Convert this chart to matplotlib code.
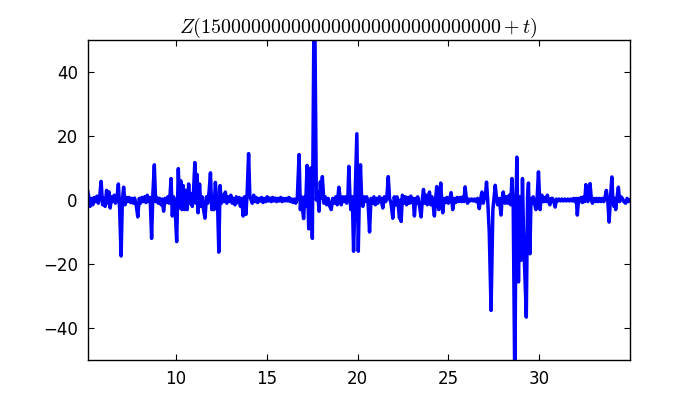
import matplotlib
matplotlib.use("Agg")
import matplotlib.pyplot as plt

# Points (t, Z), grouped by stretch of t
seg_a = [(5.13, 3.0), (5.2, 1.0), (5.27, -2.0), (5.35, 0.5), (5.42, -1.5), (5.5, 0.8), (5.57, -0.5),
         (5.65, 1.2), (5.72, -1.0), (5.8, 1.0), (5.88, 5.8), (5.96, -1.5), (6.03, 0.5), (6.1, -2.0),
         (6.18, 3.0), (6.25, -1.0), (6.32, 2.5), (6.38, -2.5), (6.45, 1.0), (6.52, -0.5), (6.6, 1.5),
         (6.67, -1.0), (6.75, 0.5), (6.83, 5.0), (6.9, -3.0), (6.98, -17.5), (7.05, 0.0), (7.12, 4.0),
         (7.2, -1.5), (7.28, 0.8)]
seg_b = [(7.35, -0.5), (7.42, 0.8), (7.5, -0.8), (7.58, 0.5), (7.65, -1.0), (7.72, 0.6), (7.8, -1.2),
         (7.9, -5.3), (7.98, 0.5), (8.05, -1.0), (8.12, 0.8), (8.2, -0.5), (8.28, 1.0), (8.35, -0.8),
         (8.42, 1.5), (8.5, -0.5), (8.58, 0.8), (8.66, -12.0), (8.73, 2.0), (8.81, 11.0), (8.88, -0.5),
         (8.95, 0.8), (9.02, -1.0), (9.1, 0.5), (9.18, -1.5), (9.25, 0.3), (9.32, -3.5), (9.4, 0.5),
         (9.48, -0.8), (9.55, 1.0)]
seg_c = [(9.62, -1.0), (9.68, 2.0), (9.73, 6.7), (9.8, -5.0), (9.87, 1.0), (9.95, -2.0), (10.04, -13.0),
         (10.13, 9.8), (10.2, -2.5), (10.27, 6.0), (10.33, -3.0), (10.4, 4.5), (10.47, -3.0), (10.55, 3.0),
         (10.62, -3.0), (10.7, 5.0), (10.77, -1.0), (10.84, 2.0), (10.9, -2.0), (10.97, 3.0), (11.04, 11.7),
         (11.1, -1.0), (11.16, 8.0), (11.22, -4.0), (11.3, 5.0), (11.37, -2.0), (11.45, 1.0), (11.52, -3.0),
         (11.6, -5.7), (11.68, 1.0), (11.75, -1.0), (11.83, 3.0), (11.9, 8.5), (11.97, -3.0), (12.04, 1.0),
         (12.1, -3.0), (12.17, 5.5), (12.24, 0.5), (12.3, -3.0), (12.36, -16.3), (12.43, 4.5), (12.5, -1.0),
         (12.58, 1.5)]
seg_d = [(12.65, -0.5), (12.72, 2.5), (12.8, -1.0), (12.87, 1.0), (12.95, -0.5), (13.02, 1.5), (13.1, -1.0),
         (13.17, 0.5), (13.25, -1.5), (13.32, 1.0), (13.4, -0.8), (13.48, 0.8), (13.55, -2.0), (13.62, 0.5),
         (13.7, -5.0), (13.77, 1.0), (13.85, -4.5), (13.92, 2.0), (14.0, 14.5), (14.07, 1.0), (14.14, 0.0),
         (14.2, -1.0), (14.28, 1.5), (14.35, -0.5), (14.42, 0.8), (14.5, -0.8), (14.57, 0.5), (14.65, -0.3),
         (14.72, 0.8), (14.8, -0.8), (14.87, 0.5), (14.95, -0.5), (15.02, 1.0), (15.1, -0.3), (15.17, 0.6),
         (15.25, -0.5), (15.32, 0.8), (15.4, -0.3), (15.47, 0.6), (15.55, -0.5), (15.62, 0.5), (15.7, -0.3),
         (15.77, 0.8), (15.85, -0.5), (15.92, 0.5), (16.0, -0.3)]
seg_e = [(16.08, 0.5), (16.15, -0.3), (16.22, 0.8), (16.3, -0.5), (16.37, 0.3), (16.45, -0.8), (16.52, 0.3),
         (16.6, -1.0), (16.68, 0.5), (16.78, 14.2), (16.85, -3.0), (16.91, 1.0), (16.97, -3.0), (17.03, -5.8),
         (17.09, 1.0), (17.14, -2.0), (17.22, 10.8), (17.31, -9.0), (17.37, 2.0), (17.42, 10.0), (17.51, -12.0),
         (17.62, 75.0), (17.73, 0.0), (17.8, 2.5), (17.88, -3.5), (17.95, 5.7), (18.0, 0.5), (18.06, 7.3),
         (18.15, -1.0), (18.22, 1.0), (18.3, -1.5), (18.38, 0.5), (18.47, -2.0), (18.55, -3.0), (18.63, 0.5),
         (18.72, -1.0), (18.8, 1.0), (18.88, -1.5), (18.97, 4.0), (19.04, 0.5), (19.1, -1.5), (19.18, 1.0),
         (19.26, -0.5), (19.33, 1.0), (19.4, -1.0), (19.47, 1.5), (19.52, 10.5), (19.58, 1.0), (19.63, -3.0),
         (19.71, 1.0), (19.78, -16.0), (19.87, 2.0), (19.96, 20.7), (20.04, -16.0), (20.1, 2.0), (20.16, 11.0),
         (20.22, 1.0), (20.29, -2.0), (20.36, 1.0), (20.43, -0.5), (20.5, 1.0), (20.58, -1.0), (20.66, -10.0),
         (20.74, 0.5), (20.82, -1.0), (20.9, 1.0), (20.98, -1.5), (21.05, 0.5), (21.12, -1.0), (21.2, 1.0),
         (21.28, 0.5), (21.39, -2.5), (21.47, 1.0), (21.55, -0.5), (21.62, 1.5), (21.69, 7.3), (21.76, 0.5),
         (21.84, -1.0), (21.94, -5.7), (22.02, 1.0), (22.1, -1.5), (22.17, 1.0), (22.24, -2.0), (22.31, -5.7),
         (22.36, 0.0)]
seg_f = [(22.4, -6.7), (22.47, 1.5), (22.55, -1.0), (22.63, 1.0), (22.7, -1.5), (22.78, 0.8), (22.86, -1.0),
         (22.93, 1.2), (23.0, -0.8), (23.06, 0.5), (23.13, -5.0), (23.2, 0.5), (23.25, -1.0), (23.31, 1.0),
         (23.4, -1.5), (23.5, -5.3), (23.57, 0.5), (23.63, 3.3), (23.7, -1.0), (23.77, 1.5), (23.84, -1.5),
         (23.9, 1.0), (23.96, 2.5), (24.03, -1.5), (24.1, 1.0), (24.17, -2.0), (24.23, -5.0), (24.3, 0.5),
         (24.36, 4.2), (24.42, -1.0), (24.47, -3.0), (24.52, 1.0), (24.58, 5.3), (24.64, -1.0), (24.69, -4.0),
         (24.76, 0.5), (24.84, -0.8), (24.92, 0.8), (25.0, -1.0), (25.08, 0.5), (25.15, 2.3), (25.24, -3.0),
         (25.32, 0.5), (25.4, -0.8), (25.48, 0.8), (25.56, -0.5), (25.64, 0.8), (25.72, -0.5), (25.8, 1.0),
         (25.86, -0.5), (25.92, 4.1), (25.99, 0.5), (26.06, -1.0), (26.13, 0.3), (26.2, -0.3), (26.28, 0.3),
         (26.36, -0.3), (26.44, 0.3), (26.52, -0.5), (26.6, 0.5), (26.7, -2.7), (26.78, 0.5), (26.85, 2.5),
         (26.92, -1.0), (27.0, 1.0), (27.05, 2.0), (27.1, 5.6)]
seg_g = [(27.16, 0.5), (27.25, -10.0), (27.35, -34.5), (27.45, -3.0), (27.52, 1.0), (27.58, 4.6),
         (27.65, 0.5), (27.71, -1.5), (27.8, 0.5), (27.9, -4.7), (27.96, 0.5), (28.02, 2.5), (28.08, 0.0),
         (28.13, -1.0), (28.2, 1.0), (28.27, -1.0), (28.35, 1.5), (28.43, -1.5), (28.5, 6.7), (28.57, -2.0),
         (28.66, -60.0), (28.72, -3.0), (28.77, 13.4), (28.82, -5.0), (28.86, -25.6), (28.9, -8.0),
         (28.94, 1.0), (29.01, -18.8), (29.05, -3.0), (29.08, 6.7), (29.13, -8.0), (29.18, -18.0),
         (29.29, -36.6), (29.36, 1.0), (29.41, 5.3), (29.49, -16.8), (29.55, 0.5), (29.6, -1.0), (29.67, 1.0),
         (29.74, -1.0), (29.82, -3.0), (29.89, 1.0), (29.96, 8.8), (30.05, -3.0), (30.1, 0.5), (30.15, 1.5)]
seg_h = [(30.21, -0.5), (30.27, -0.5), (30.33, 0.8), (30.39, -0.5), (30.45, 1.5), (30.52, -0.5),
         (30.59, -1.5), (30.66, 0.5), (30.73, 0.5), (30.8, -0.5), (30.88, -2.2), (30.95, 0.3), (31.02, -0.3),
         (31.1, 0.3), (31.18, -0.3), (31.26, 0.3), (31.34, -0.3), (31.42, 0.3), (31.5, -0.3), (31.58, 0.3),
         (31.66, -0.3), (31.74, 0.3), (31.82, -0.3), (31.9, 0.5), (31.97, -0.5), (32.04, 0.5), (32.1, -4.7),
         (32.17, 0.5), (32.24, -0.5), (32.31, 0.8), (32.38, -0.8), (32.45, 1.0), (32.51, -0.5), (32.57, 4.8),
         (32.63, 1.0), (32.68, -0.5), (32.74, 1.5), (32.8, 5.1), (32.87, 0.5), (32.93, -1.0), (33.0, 0.5),
         (33.08, -0.5), (33.16, 0.5), (33.24, -0.5), (33.32, 0.5), (33.4, -0.5), (33.48, 0.5), (33.56, -0.5),
         (33.63, 1.0), (33.7, 3.0), (33.78, -0.5), (33.85, -6.9), (33.93, 1.0), (34.0, 7.2), (34.06, -0.5),
         (34.12, -2.0), (34.17, 0.5), (34.21, -3.0), (34.28, 0.5), (34.36, 4.0), (34.43, -0.5), (34.5, 1.0),
         (34.58, 0.5), (34.66, -0.5), (34.76, -1.0), (34.84, 0.5), (34.92, -0.5), (35.0, 0.0)]

x_limits = (5.13, 35.0)
y_limits = (-50, 50)
x_ticks = [10, 15, 20, 25, 30]
y_ticks = [-40, -20, 0, 20, 40]
title_text = r"$Z(15" + "0" * 28 + r"+t)$"

points = seg_a + seg_b + seg_c + seg_d + seg_e + seg_f + seg_g + seg_h
t_vals = [p[0] for p in points]
z_vals = [p[1] for p in points]

plt.rcParams['mathtext.fontset'] = 'cm'
fig = plt.figure(figsize=(7, 4), dpi=100, facecolor='white')
ax = fig.add_axes([0.125, 0.1, 0.775, 0.8])
ax.plot(t_vals, z_vals, color='blue', linewidth=2.5)
ax.set_xlim(*x_limits)
ax.set_ylim(*y_limits)
ax.set_xticks(x_ticks)
ax.set_yticks(y_ticks)
ax.tick_params(direction='in', top=True, right=True, length=4, width=0.8, labelsize=12, pad=7)
ax.minorticks_off()
for s in ax.spines.values():
    s.set_linewidth(1.0)
ax.set_title(title_text, fontsize=14.4, pad=5)
fig.savefig("out.png", dpi=100, facecolor='white')
